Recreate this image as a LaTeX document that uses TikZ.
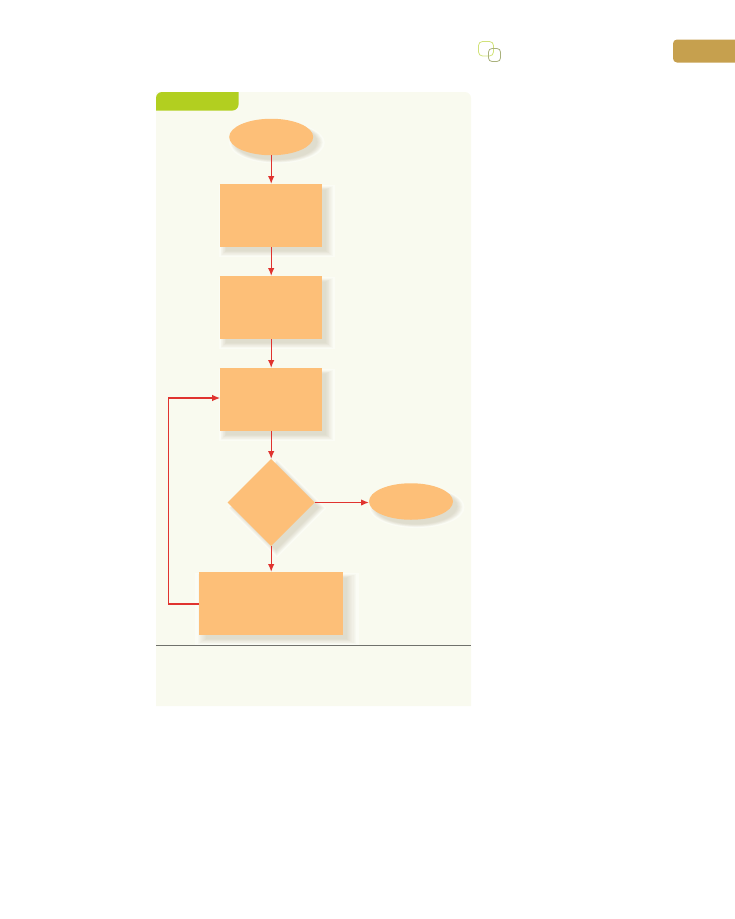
\documentclass[tikz,border=0pt]{standalone}
\usetikzlibrary{shapes,shadows,arrows.meta}

\definecolor{panelbg}{HTML}{F9FAEF}
\definecolor{boxfill}{HTML}{FDBF78}
\definecolor{tabgreen}{HTML}{B2CF20}
\definecolor{tabgold}{HTML}{C6A04E}
\definecolor{flowred}{HTML}{E0332F}
\definecolor{softshade}{HTML}{9A8F68}

\tikzset{
  softlayer/.style={general shadow={shadow xshift=5pt,shadow yshift=-5pt,shadow scale=#1,fill=softshade,opacity=.032}},
  softshadow/.style={
    general shadow={shadow xshift=5pt,shadow yshift=-5pt,shadow scale=1.14,fill=white,opacity=.4},
    softlayer=1.1,softlayer=1.085,softlayer=1.07,softlayer=1.055,softlayer=1.04,
    softlayer=1.025,softlayer=1.01,softlayer=.995,softlayer=.98},
  procbox/.style={rectangle,fill=boxfill,softshadow,minimum width=102pt,minimum height=63pt,inner sep=0pt,outer sep=0pt},
  termin/.style={ellipse,fill=boxfill,softshadow,minimum width=84pt,minimum height=36.5pt,inner sep=0pt,outer sep=0pt},
  decide/.style={diamond,fill=boxfill,softshadow,minimum width=87pt,minimum height=87pt,inner sep=0pt,outer sep=0pt},
  flow/.style={draw=flowred,line width=1.4pt,-{Latex[length=8pt,width=6.5pt]}}
}

\begin{document}
\begin{tikzpicture}[x=1pt,y=1pt]
\useasboundingbox (0,0) rectangle (735,-919);

% panel and tabs
\fill[panelbg] (156,-706) -- (156,-92) -- (465,-92) arc (90:0:6) -- (471,-706) -- cycle;
\fill[tabgreen] (156,-110.5) -- (156,-98) arc (180:90:6) -- (238.5,-92) -- (238.5,-104.5) arc (0:-90:6) -- cycle;
\fill[tabgold] (735,-39.5) -- (677,-39.5) arc (90:180:4) -- (673,-58.5) arc (180:270:4) -- (735,-62.5) -- cycle;
\draw[color=tabgreen!60!white,line width=.8pt,rounded corners=4pt] (478.5,-41.5) rectangle (493.5,-56);
\draw[color=black!45!tabgreen!55!white,line width=.8pt,rounded corners=3.5pt] (488.5,-48.5) rectangle (500.5,-61.5);

% flow chart
\node[termin] (start) at (271.2,-137) {};
\node[procbox] (first) [below of=start,node distance=78.5pt] {};
\node[procbox] (second) [below of=first,node distance=92pt] {};
\node[procbox] (third) [below of=second,node distance=92pt] {};
\node[decide] (check) [below of=third,node distance=103pt] {};
\node[termin,yshift=1pt] (stop) [right of=check,node distance=139.8pt] {};
\node[procbox,minimum width=144pt] (update) [below of=check,node distance=101pt] {};

\path[flow] (start) -- (first);
\path[flow] (first) -- (second);
\path[flow] (second) -- (third);
\path[flow] (third) -- (check);
\path[flow] (check) -- (check-|stop.west);
\path[flow] (check) -- (update);
\path[flow] ([yshift=-.5pt]update.west) -- ++(-31,0) |- ([yshift=1.5pt]third.west);

% rule under the chart
\draw[color=black!55!panelbg,line width=.7pt] (156,-645.5) -- (471,-645.5);
\end{tikzpicture}
\end{document}
